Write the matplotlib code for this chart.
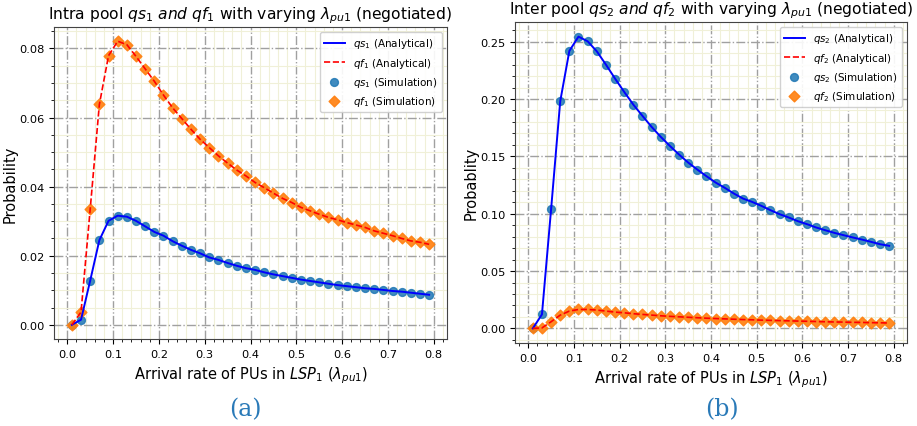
import numpy as np
import matplotlib
matplotlib.use("Agg")
import matplotlib.pyplot as plt
from matplotlib.ticker import AutoMinorLocator

# arrival rate of PUs in LSP1
lam = np.round(np.arange(0.01, 0.80, 0.02), 2)

# (a) intra pool
qs1 = [0.0, 0.0015, 0.0128, 0.0245, 0.0301, 0.0316, 0.0313, 0.0301, 0.0285, 0.0269,
       0.0258, 0.0242, 0.0229, 0.0217, 0.0207, 0.0195, 0.0188, 0.0179, 0.0171, 0.0164,
       0.0159, 0.0152, 0.0146, 0.0141, 0.0136, 0.0131, 0.0127, 0.0123, 0.0119, 0.0115,
       0.0112, 0.0109, 0.0106, 0.0104, 0.0101, 0.0098, 0.0096, 0.0093, 0.0090, 0.0087]
qf1 = [0.0, 0.0037, 0.0335, 0.0638, 0.0779, 0.0821, 0.0811, 0.0777, 0.0741, 0.0705,
       0.0665, 0.0628, 0.0597, 0.0566, 0.0537, 0.0513, 0.0489, 0.0468, 0.0448, 0.0431,
       0.0412, 0.0397, 0.0381, 0.0366, 0.0354, 0.0340, 0.0330, 0.0320, 0.0311, 0.0304,
       0.0296, 0.0289, 0.0282, 0.0272, 0.0265, 0.0258, 0.0250, 0.0243, 0.0239, 0.0233]

# (b) inter pool
qs2 = [0.0, 0.0122, 0.1037, 0.1980, 0.2419, 0.2544, 0.2503, 0.2416, 0.2300, 0.2178,
       0.2062, 0.1951, 0.1853, 0.1757, 0.1670, 0.1591, 0.1516, 0.1446, 0.1385, 0.1327,
       0.1272, 0.1226, 0.1176, 0.1132, 0.1103, 0.1069, 0.1031, 0.0996, 0.0967, 0.0935,
       0.0909, 0.0880, 0.0856, 0.0833, 0.0813, 0.0793, 0.0775, 0.0755, 0.0734, 0.0720]
qf2 = [0.0, 0.0004, 0.0058, 0.0116, 0.0151, 0.0165, 0.0165, 0.0160, 0.0151, 0.0142,
       0.0136, 0.0128, 0.0122, 0.0116, 0.0110, 0.0105, 0.0101, 0.0097, 0.0093, 0.0089,
       0.0086, 0.0083, 0.0080, 0.0077, 0.0075, 0.0072, 0.0070, 0.0068, 0.0066, 0.0064,
       0.0062, 0.0060, 0.0058, 0.0056, 0.0055, 0.0053, 0.0052, 0.0050, 0.0049, 0.0047]

fig = plt.figure(figsize=(9.17, 4.27), dpi=100)
ax1 = fig.add_axes([0.0589, 0.2037, 0.4286, 0.7307])
ax2 = fig.add_axes([0.5616, 0.1944, 0.4275, 0.7517])


def draw(ax, qs, qf, idx, title, ylabel, ylab_x):
    ax.scatter(lam, qs, s=32, color="tab:blue", alpha=0.85, zorder=3,
               label=r"$qs_%d$ (Simulation)" % idx)
    ax.scatter(lam, qf, s=30, marker="D", color="tab:orange", alpha=0.9, zorder=3,
               label=r"$qf_%d$ (Simulation)" % idx)
    ax.plot(lam, qs, color="blue", lw=1.4, zorder=4, label=r"$qs_%d$ (Analytical)" % idx)
    ax.plot(lam, qf, color="red", lw=1.2, ls="--", zorder=4, label=r"$qf_%d$ (Analytical)" % idx)
    ax.set_title(title, fontsize=11.2)
    ax.set_xlabel(r"Arrival rate of PUs in $LSP_1$ ($\lambda_{pu1}$)", fontsize=10.5)
    ax.set_ylabel(ylabel, fontsize=10.5)
    ax.yaxis.set_label_coords(ylab_x, 0.5)
    ax.xaxis.set_minor_locator(AutoMinorLocator())
    ax.yaxis.set_minor_locator(AutoMinorLocator())
    ax.grid(which="minor", color="#f0f0d8", lw=0.8, ls="-")
    ax.grid(which="major", color="#a0a0a0", lw=1.0, ls="-.")
    ax.set_axisbelow(True)
    ax.tick_params(labelsize=8.2)
    for s in ax.spines.values():
        s.set_color("#444444")
    h, l = ax.get_legend_handles_labels()
    order = [2, 3, 0, 1]
    ax.legend([h[i] for i in order], [l[i] for i in order], loc="upper right",
              fontsize=7.5, framealpha=0.9)


draw(ax1, qs1, qf1, 1,
     r"Intra pool $qs_1$ $and$ $qf_1$ with varying $\lambda_{pu1}$ (negotiated)",
     "Probability", -0.092)
draw(ax2, qs2, qf2, 2,
     r"Inter pool $qs_2$ $and$ $qf_2$ with varying $\lambda_{pu1}$ (negotiated)",
     "Probablity", -0.094)
ax1.set_yticks([0.0, 0.02, 0.04, 0.06, 0.08])
ax2.set_yticks([0.0, 0.05, 0.10, 0.15, 0.20, 0.25])
ax1.yaxis.set_minor_locator(AutoMinorLocator(4))

fig.text(245 / 917, 1 - 410 / 427, "(a)", color="#2a7ab8", fontsize=17,
         family="DejaVu Serif", ha="center", va="center")
fig.text(722 / 917, 1 - 410 / 427, "(b)", color="#2a7ab8", fontsize=17,
         family="DejaVu Serif", ha="center", va="center")

fig.savefig("out.png", dpi=100)
